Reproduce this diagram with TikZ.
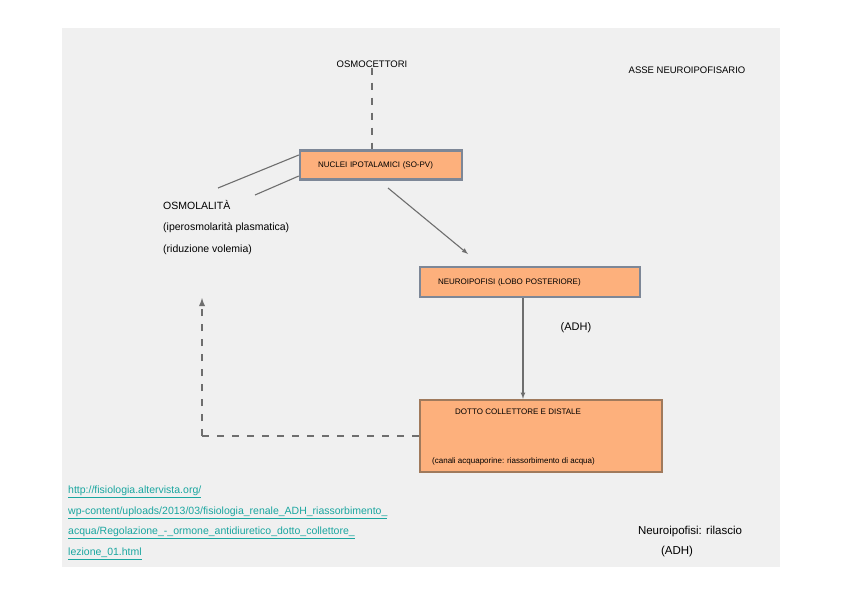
\documentclass[tikz,border=0pt]{standalone}
\usepackage{fontspec}
\setmainfont{Liberation Sans}
\usepackage{tikz}
\usetikzlibrary{positioning}

\definecolor{sfondo}{HTML}{F0F0F0}
\definecolor{arancio}{HTML}{FDB07C}
\definecolor{bordo}{HTML}{7D8797}
\definecolor{bordob}{HTML}{A07A5C}
\definecolor{linea}{HTML}{6E6E6E}
\definecolor{link}{HTML}{1AA6A0}

\tikzset{
  box/.style={draw=bordo, line width=2.4pt, fill=arancio, inner ysep=0pt, inner xsep=18pt,
    align=left, font=\fontsize{8}{9}\selectfont},
  lab/.style={font=\fontsize{9}{11}\selectfont, inner sep=0pt},
  freccia/.style={draw=linea, line width=1.1pt},
  tratto/.style={draw=linea, line width=1.8pt, dash pattern=on 7pt off 8pt}
}

\begin{document}
\begin{tikzpicture}[x=1pt, y=-1pt]
\useasboundingbox (0,0) rectangle (842,595);
\fill[sfondo] (62,28) rectangle (780,567);

\node[lab, font=\fontsize{9.5}{11}\selectfont] (stimolo) at (372,64) {OSMOCETTORI};
\node[lab, font=\fontsize{9.5}{11}\selectfont] (neurotop) at (687,70) {ASSE NEUROIPOFISARIO};

\node[box, text width=126pt, minimum height=29pt] (ipot) at (381,165) {NUCLEI IPOTALAMICI (SO-PV)};
\node[box, text width=184pt, minimum height=30pt] (neuro) at (530,282) {NEUROIPOFISI (LOBO POSTERIORE)};
\node[box, draw=bordob, minimum width=242pt, minimum height=72pt] (dotto) at (541,436) {};
\node[lab, anchor=west, font=\fontsize{8}{9}\selectfont] (dottoa) at (455,412) {DOTTO COLLETTORE E DISTALE};
\node[lab, anchor=west, font=\fontsize{8}{9}\selectfont] (dottob) at (432,461) {(canali acquaporine: riassorbimento di acqua)};

\node[lab, anchor=north west, align=left, font=\fontsize{10.5}{21.5}\selectfont] (osmo) at (163,200)
  {OSMOLALITÀ\\(iperosmolarità plasmatica)\\(riduzione volemia)};

\node[lab, font=\fontsize{11}{13}\selectfont] (adh) at (576,328) {(ADH)};

\node[lab, anchor=north west, align=left, text=link, font=\fontsize{10.5}{20.5}\selectfont] (fonte) at (68,486)
  {\underline{http://fisiologia.altervista.org/}\\
   \underline{wp-content/uploads/2013/03/fisiologia\_renale\_ADH\_riassorbimento\_}\\
   \underline{acqua/Regolazione\_-\_ormone\_antidiuretico\_dotto\_collettore\_}\\
   \underline{lezione\_01.html}};

\node[lab, align=center, font=\fontsize{11.5}{20}\selectfont] (nota) at (690,542) {Neuroipofisi: rilascio\\\hspace*{-26pt}(ADH)};

% connettori
\draw[tratto] (stimolo) -- (ipot.north -| stimolo);
\draw[freccia] (218,188) coordinate (o1) (o1) -- (ipot.west |- 0,155);
\draw[freccia] (255,195) coordinate (o2) (o2) -- (ipot.west |- 0,176);
\draw[freccia, -latex] (388,188) coordinate (p1) (p1) -- (468,254) coordinate (p2);
\draw[freccia, -latex] (neuro.south -| 523,0) -- (dotto.north -| 523,0);
\draw[tratto, -latex] (dotto.west) -- (202,436) coordinate (d1) (d1) -- (202,298);
\end{tikzpicture}
\end{document}
